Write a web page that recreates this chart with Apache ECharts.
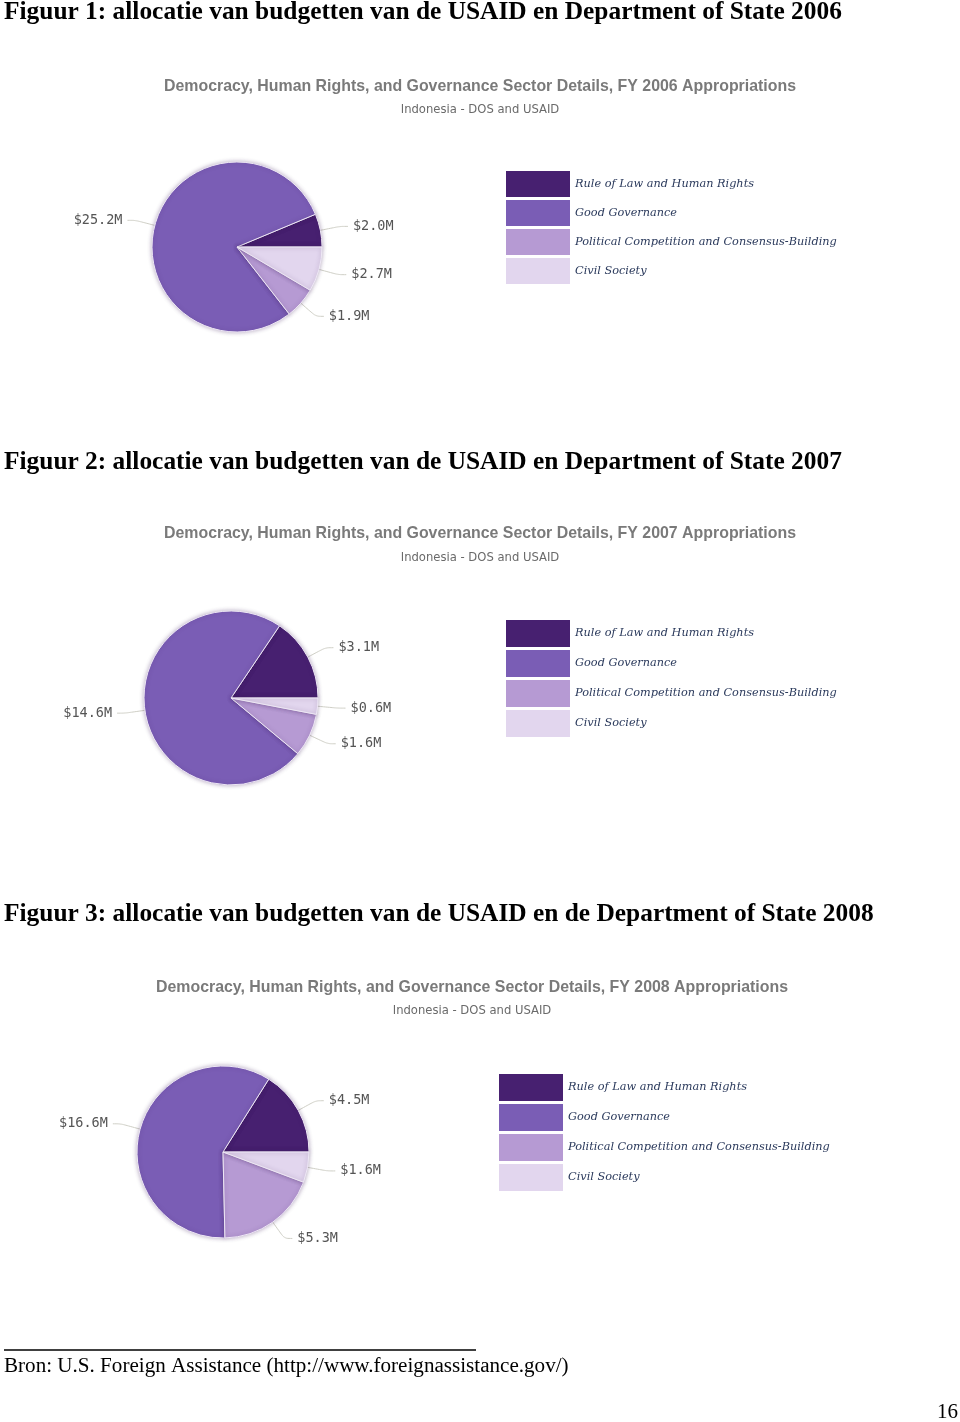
<!DOCTYPE html>
<html>
<head>
<meta charset="utf-8">
<script src="https://cdn.jsdelivr.net/npm/echarts@6/dist/echarts.min.js"></script>
<style>
html,body{margin:0;padding:0;background:#fff;}
#c{width:960px;height:1422px;}
</style>
</head>
<body>
<div id="c"></div>
<script>
const categories = ['Rule of Law and Human Rights', 'Good Governance', 'Political Competition and Consensus-Building', 'Civil Society'];
const legendLabels = ['Rule of Law and Human Rights', 'Good Governance', 'Political Competition and Consensus-Building', 'Civil Society'];
const values2006 = [2.0, 25.2, 1.9, 2.7];
const values2007 = [3.1, 14.6, 1.6, 0.6];
const values2008 = [4.5, 16.6, 5.3, 1.6];
const years = ['2006', '2007', '2008'];
const headings = [
  'Figuur 1: allocatie van budgetten van de USAID en Department of State 2006',
  'Figuur 2: allocatie van budgetten van de USAID en Department of State 2007',
  'Figuur 3: allocatie van budgetten van de USAID en de Department of State 2008'
];
const colors = ['#472070', '#7a5db5', '#b69ad3', '#e2d6ee'];

const layout = [
  {head: 12, title: 86, sub: 109, titleX: 480, cx: 237, cy: 247, r: 85, legX: 506, legY: 171, legH: 26, gap: 3},
  {head: 462, title: 533, sub: 557, titleX: 480, cx: 231, cy: 698, r: 87, legX: 506, legY: 620, legH: 27, gap: 3},
  {head: 914, title: 987, sub: 1010, titleX: 472, cx: 223, cy: 1152, r: 86, legX: 499, legY: 1074, legH: 27, gap: 3}
];
const allValues = [values2006, values2007, values2008];

const chart = echarts.init(document.getElementById('c'), null, {renderer: 'canvas'});

const graphics = [];
const series = [];
const legends = [];
layout.forEach((L, i) => {
  graphics.push({
    type: 'text', x: 4, y: L.head,
    style: {text: headings[i], font: 'bold 25.4px "Liberation Serif", "Times New Roman", serif', fill: '#000', verticalAlign: 'middle'}
  });
  graphics.push({
    type: 'text', x: L.titleX, y: L.title + 1,
    style: {text: 'Democracy, Human Rights, and Governance Sector Details, FY ' + years[i] + ' Appropriations',
      font: 'bold 15.9px "Liberation Sans", Arial, sans-serif', fill: '#7a7a7a', align: 'center', verticalAlign: 'middle'}
  });
  graphics.push({
    type: 'text', x: L.titleX, y: L.sub + 1,
    style: {text: 'Indonesia - DOS and USAID', font: '11.6px "DejaVu Sans", sans-serif', fill: '#6a6a6a', align: 'center', verticalAlign: 'middle'}
  });
  series.push({
    type: 'pie',
    center: [L.cx, L.cy],
    radius: [0, L.r],
    startAngle: 0,
    clockwise: false,
    silent: true,
    animation: false,
    data: categories.map((c, k) => ({name: c, value: allValues[i][k], itemStyle: {color: colors[k]}})),
    itemStyle: {borderColor: '#eee8f5', borderWidth: 1, shadowBlur: 4, shadowColor: 'rgba(60,30,90,0.35)'},
    label: {
      show: true, position: 'outside',
      formatter: p => '$' + p.value.toFixed(1) + 'M',
      fontFamily: '"DejaVu Sans Mono", monospace', fontSize: 13.5, color: '#555'
    },
    labelLine: {show: true, length: 20, length2: 8, smooth: 0.3, lineStyle: {color: '#cfcfc6', width: 1}}
  });
  legends.push({
    orient: 'vertical', left: L.legX, top: L.legY, padding: 0,
    itemWidth: 64, itemHeight: L.legH, itemGap: L.gap, icon: 'rect',
    selectedMode: false,
    itemStyle: {borderWidth: 0, shadowBlur: 0},
    data: categories,
    formatter: name => legendLabels[categories.indexOf(name)],
    textStyle: {fontFamily: '"DejaVu Serif", serif', fontStyle: 'italic', fontSize: 11.3, color: '#2b3a5c', padding: [0, 0, 0, 0], lineHeight: 14}
  });
});

graphics.push({type: 'line', shape: {x1: 4, y1: 1350, x2: 476, y2: 1350}, style: {stroke: '#000', lineWidth: 1.5}});
graphics.push({type: 'text', x: 4, y: 1366, style: {text: 'Bron: U.S. Foreign Assistance (http://www.foreignassistance.gov/)', font: '21.1px "Liberation Serif", "Times New Roman", serif', fill: '#000', verticalAlign: 'middle'}});
graphics.push({type: 'text', x: 937, y: 1412, style: {text: '16', font: '21px "Liberation Serif", "Times New Roman", serif', fill: '#000', verticalAlign: 'middle'}});

chart.setOption({
  backgroundColor: '#fff',
  animation: false,
  legend: legends,
  graphic: graphics,
  series: series
});
</script>
</body>
</html>
